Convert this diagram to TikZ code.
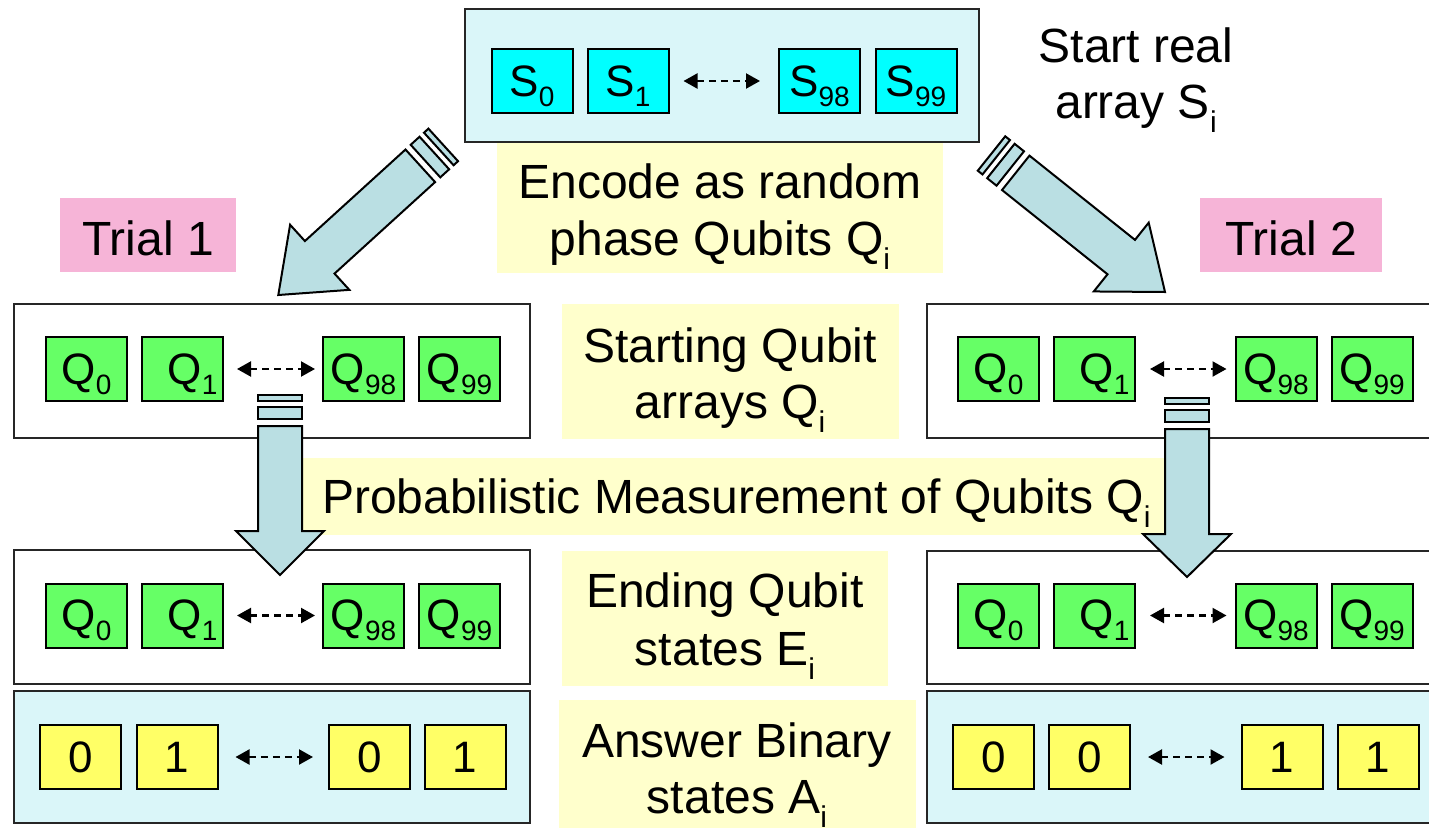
\documentclass[tikz,border=0pt]{standalone}
\usepackage{fontspec}
\setmainfont{Liberation Sans}
\usetikzlibrary{arrows.meta,calc}
\definecolor{lcyan}{RGB}{218,246,249}
\definecolor{scyan}{RGB}{0,255,255}
\definecolor{qgreen}{RGB}{102,255,102}
\definecolor{ayellow}{RGB}{255,255,102}
\definecolor{lyellow}{RGB}{255,255,204}
\definecolor{tpink}{RGB}{246,180,215}
\definecolor{arrowblue}{RGB}{186,223,227}
\newcommand{\mysubbig}[1]{\raisebox{-14pt}{\fontsize{30}{30}\selectfont #1}}
\newcommand{\mysubsmall}[1]{\raisebox{-10pt}{\fontsize{28}{28}\selectfont #1}}
\newcommand{\blockarrow}[5]{%
  \begin{scope}[shift={(#1,#2)}, rotate=#3]
    \draw[bigarr] (0,0) -- (-#5,44) -- (-#5,22) -- (-#4,22) -- (-#4,-22) -- (-#5,-22) -- (-#5,-44) -- cycle;
    \draw[bigarr] ({-#4-7},22) -- ({-#4-19},22) -- ({-#4-19},-22) -- ({-#4-7},-22) -- cycle;
    \draw[bigarr] ({-#4-25},22) -- ({-#4-31},22) -- ({-#4-31},-22) -- ({-#4-25},-22) -- cycle;
  \end{scope}}
\tikzset{
  lbl/.style={font=\fontsize{48}{56}\selectfont, inner sep=0pt, anchor=base},
  cell/.style={draw=black, line width=2pt, minimum width=81pt, minimum height=64pt,
    inner sep=0pt, text height=30pt, text depth=0pt, font=\fontsize{44}{44}\selectfont},
  scell/.style={cell, fill=scyan},
  qcell/.style={cell, fill=qgreen},
  acell/.style={cell, fill=ayellow},
  dots/.style={dash pattern=on 7pt off 5pt, line width=2.2pt,
    {Triangle[length=14pt,width=15pt]}-{Triangle[length=14pt,width=15pt]}},
  outer/.style={draw=black!85, line width=2pt},
  bigarr/.style={draw=black, line width=2pt, fill=arrowblue, line join=miter},
  bgy/.style={fill=lyellow},
  bgp/.style={fill=tpink},
}
\begin{document}
\begin{tikzpicture}[x=1pt,y=-1pt]
\useasboundingbox (0,0) rectangle (1429,827);
\clip (0,0) rectangle (1429,827);
\fill[white] (0,0) rectangle (1429,827);

% label backgrounds
\fill[bgy] (497,142) rectangle (943,273);
\fill[bgy] (562,304) rectangle (899,439);
\fill[bgy] (290,458) rectangle (1175,535);
\fill[bgy] (562,551) rectangle (888,686);
\fill[bgy] (559,700) rectangle (916,830);
\fill[bgp] (60,198) rectangle (236,272);
\fill[bgp] (1200,198) rectangle (1382,272);

% outer boxes
\draw[outer, fill=lcyan] (465,9) rectangle (979,142);
\draw[outer] (14,304) rectangle (530,438);
\draw[outer] (927,304) rectangle (1440,438);
\draw[outer] (14,550) rectangle (530,684);
\draw[outer] (927,551) rectangle (1440,684);
\draw[outer, fill=lcyan] (14,691) rectangle (530,823);
\draw[outer, fill=lcyan] (927,691) rectangle (1440,823);

% big arrows
\blockarrow{278.3}{295}{-137.7}{192}{56}
\blockarrow{1165}{292}{-38.6}{191}{56}
\blockarrow{280}{575}{-90}{149}{44}
\blockarrow{1187}{577}{-90}{148}{43}

% top S cells
\node[scell] (s0) at (532,81) {S\mysubsmall{0}};
\node[scell] (s1) at (628,81) {S\mysubsmall{1}};
\node[scell] (s98) at (819.5,81) {S\mysubsmall{98}};
\node[scell] (s99) at (916,81) {S\mysubsmall{99}};
\draw[dots, shorten <=14pt, shorten >=18pt] (s1) -- (s98);

% row 2 left
\node[qcell] (lq0) at (86.5,369) {Q\mysubsmall{0}\hspace{14pt}};
\node[qcell] (lq1) at (182.5,369) {\hspace{20pt}Q\mysubsmall{1}};
\node[qcell] (lq98) at (363.5,369) {Q\mysubsmall{98}};
\node[qcell] (lq99) at (459.5,369) {Q\mysubsmall{99}};
\draw[dots, shorten <=13pt, shorten >=7pt] (lq1) -- (lq98);
% row 2 right
\node[qcell] (rq0) at (998.5,369) {Q\mysubsmall{0}\hspace{14pt}};
\node[qcell] (rq1) at (1094.5,369) {\hspace{20pt}Q\mysubsmall{1}};
\node[qcell] (rq98) at (1276,369) {Q\mysubsmall{98}};
\node[qcell] (rq99) at (1372,369) {Q\mysubsmall{99}};
\draw[dots, shorten <=14pt, shorten >=8pt] (rq1) -- (rq98);

% row 3 left
\node[qcell] (le0) at (86.5,615.5) {Q\mysubsmall{0}\hspace{14pt}};
\node[qcell] (le1) at (182.5,615.5) {\hspace{20pt}Q\mysubsmall{1}};
\node[qcell] (le98) at (363.5,615.5) {Q\mysubsmall{98}};
\node[qcell] (le99) at (459.5,615.5) {Q\mysubsmall{99}};
\draw[dots, shorten <=13pt, shorten >=7pt] (le1) -- (le98);
% row 3 right
\node[qcell] (re0) at (998.5,615.5) {Q\mysubsmall{0}\hspace{14pt}};
\node[qcell] (re1) at (1094.5,615.5) {\hspace{20pt}Q\mysubsmall{1}};
\node[qcell] (re98) at (1276,615.5) {Q\mysubsmall{98}};
\node[qcell] (re99) at (1372,615.5) {Q\mysubsmall{99}};
\draw[dots, shorten <=14pt, shorten >=8pt] (re1) -- (re98);

% row 4 left
\node[acell] (la0) at (80.5,757) {0};
\node[acell] (la1) at (177,757) {1};
\node[acell] (la98) at (369.5,757) {0};
\node[acell] (la99) at (465,757) {1};
\draw[dots, shorten <=17pt, shorten >=15pt] (la1) -- (la98);
% row 4 right
\node[acell] (ra0) at (993.5,757) {0};
\node[acell] (ra1) at (1089.5,757) {0};
\node[acell] (ra98) at (1282,757) {1};
\node[acell] (ra99) at (1378,757) {1};
\draw[dots, shorten <=17pt, shorten >=16pt] (ra1) -- (ra98);

% labels
\node[lbl] (startA) at (1136,62) {Start real};
\node[lbl] (startB) at (1136,118) {array S\mysubbig{i}};
\node[lbl] (encA) at (720,198) {Encode as random};
\node[lbl] (encB) at (720,255) {phase Qubits Q\mysubbig{i}};
\node[lbl] (trial1) at (148,255) {Trial 1};
\node[lbl] (trial2) at (1291,255) {Trial 2};
\node[lbl] (stA) at (730,362) {Starting Qubit};
\node[lbl] (stB) at (730,418) {arrays Q\mysubbig{i}};
\node[lbl, anchor=base west] (prob) at (322,513) {Probabilistic Measurement of Qubits Q\mysubbig{i}};
\node[lbl] (endA) at (725,607) {Ending Qubit};
\node[lbl] (endB) at (725,665) {states E\mysubbig{i}};
\node[lbl] (ansA) at (737,757) {Answer Binary};
\node[lbl] (ansB) at (737,813) {states A\mysubbig{i}};
\end{tikzpicture}
\end{document}
